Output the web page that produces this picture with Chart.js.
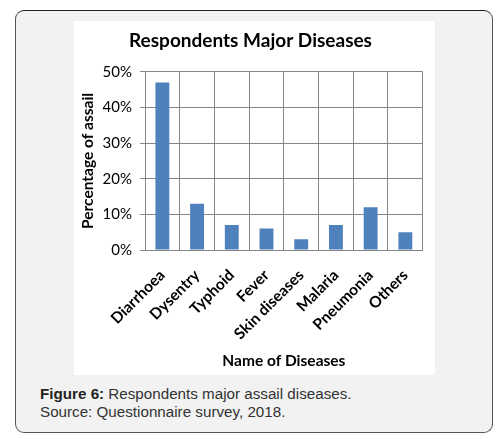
<!DOCTYPE html>
<html>
<head>
<meta charset="utf-8">
<script src="https://cdn.jsdelivr.net/npm/chart.js@4.4.1/dist/chart.umd.min.js"></script>
<style>
  html, body { margin: 0; padding: 0; background: #ffffff; }
  body { width: 499px; height: 439px; position: relative; overflow: hidden; }
  .frame {
    position: absolute; left: 15px; top: 10px; width: 478px; height: 423px;
    box-sizing: border-box; border: 1px solid #555; border-top-color: #222;
    border-radius: 9px; background: #f2f2f2;
  }
  .panel {
    position: absolute; left: 74px; top: 21px; width: 361px; height: 354px; background: #fff;
  }
  .caption {
    position: absolute; left: 40px; top: 385px;
    font-family: "Liberation Sans", Arial, sans-serif; font-size: 15.2px; line-height: 18px; color: #333;
  }
  .caption b { color: #222; }
</style>
</head>
<body>
<div class="frame"></div>
<div class="panel"><canvas id="c" width="361" height="354"></canvas></div>
<div class="caption"><b>Figure 6:</b> Respondents major assail diseases.<br>Source: Questionnaire survey, 2018.</div>
<script>
const categories = ["Diarrhoea", "Dysentry", "Typhoid", "Fever", "Skin diseases", "Malaria", "Pneumonia", "Others"];
const percentages = [47, 13, 7, 6, 3, 7, 12, 5];
const yTicks = [0, 10, 20, 30, 40, 50];

const gridColor = "#868686";
const font = "Lato, 'Open Sans', sans-serif";

new Chart(document.getElementById("c"), {
  type: "bar",
  data: {
    labels: categories,
    datasets: [{
      data: percentages,
      backgroundColor: "#4f81bd",
      borderWidth: 0,
      barPercentage: 0.4,
      categoryPercentage: 1.0
    }]
  },
  options: {
    responsive: false,
    animation: false,
    devicePixelRatio: 1,
    layout: { padding: { left: 0, right: 8, top: 0, bottom: 0 } },
    plugins: {
      legend: { display: false },
      tooltip: { enabled: false },
      title: {
        display: true,
        text: "Respondents Major Diseases",
        color: "#000",
        font: { family: font, size: 19, weight: "bold", lineHeight: 1.2 },
        padding: { top: 8, bottom: 20 }
      }
    },
    scales: {
      x: {
        grid: { color: gridColor, lineWidth: 1, drawTicks: false, offset: true },
        border: { color: gridColor, width: 1 },
        ticks: {
          color: "#000",
          font: { family: font, size: 15.5, weight: "bold" },
          minRotation: 45, maxRotation: 45,
          padding: 16,
          autoSkip: false
        },
        title: {
          display: true,
          text: "Name of Diseases",
          color: "#000",
          font: { family: font, size: 15.5, weight: "bold", lineHeight: 1.2 },
          padding: { top: 0, bottom: 5 }
        },
        afterFit: (s) => { s.height = 125; }
      },
      y: {
        min: 0, max: 50,
        afterBuildTicks: (s) => { s.ticks = yTicks.map(v => ({ value: v })); },
        grid: { color: gridColor, lineWidth: 1, tickLength: 5, tickColor: gridColor },
        border: { color: gridColor, width: 1 },
        ticks: {
          color: "#000",
          font: { family: font, size: 15 },
          padding: 8,
          callback: (v) => v + "%"
        },
        title: {
          display: true,
          text: "Percentage of assail",
          color: "#000",
          font: { family: font, size: 15.5, weight: "bold", lineHeight: 1.2 },
          padding: { top: 5, bottom: 0 }
        },
        afterFit: (s) => { s.width = 71; }
      }
    }
  }
});
</script>
</body>
</html>
